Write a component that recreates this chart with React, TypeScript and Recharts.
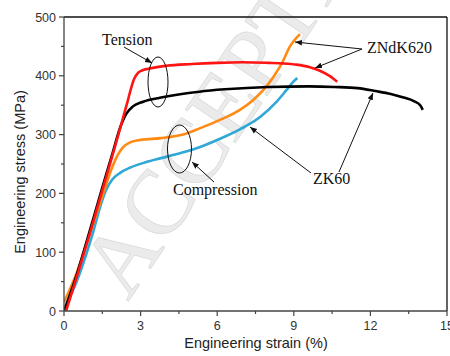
import React from 'react';
import { LineChart, Line, XAxis, YAxis, ReferenceLine } from 'recharts';

// ZNdK620 tension (red)
const zndkTensionStrain = [0.08, 0.5, 1.0, 1.5, 2.0, 2.45, 2.75, 2.9, 3.05, 3.3, 4.0, 5.0, 6.0, 7.0, 8.0, 8.6, 9.1, 9.6, 10.0, 10.35, 10.7];
const zndkTensionStress = [0, 58, 130, 205, 280, 350, 395, 405, 409, 412, 417, 420, 422, 423, 422, 421, 419, 415, 409, 401, 390];

// ZK60 tension (black)
const zk60TensionStrain = [0, 0.5, 1.0, 1.5, 1.9, 2.2, 2.45, 2.7, 3.1, 3.8, 5.3, 6.3, 8.0, 9.6, 10.6, 11.5, 12.2, 12.8, 13.3, 13.7, 13.95, 14.05];
const zk60TensionStress = [0, 62, 135, 210, 268, 312, 336, 348, 356, 363, 373, 377, 381, 382, 381, 379, 374, 369, 363, 357, 350, 342];

// ZNdK620 compression (orange)
const zndkCompStrain = [0, 0.5, 1.0, 1.5, 1.85, 2.1, 2.3, 2.6, 3.0, 3.8, 4.8, 5.33, 6.11, 6.89, 7.41, 7.81, 8.2, 8.53, 8.85, 9.24];
const zndkCompStress = [15, 65, 130, 195, 240, 265, 278, 287, 291, 294, 302, 311, 325, 342, 359, 376, 398, 421, 450, 471];

// ZK60 compression (blue)
const zk60CompStrain = [0.04, 0.6, 1.1, 1.45, 1.65, 1.9, 2.2, 2.6, 3.2, 3.8, 4.6, 5.33, 6.11, 6.89, 7.68, 8.33, 8.72, 9.05, 9.14];
const zk60CompStress = [5, 62, 128, 182, 206, 224, 235, 244, 253, 260, 269, 279, 293, 309, 330, 356, 376, 393, 396];

const xTicks = [0, 1.5, 3, 4.5, 6, 7.5, 9, 10.5, 12, 13.5, 15];
const xMajor = [0, 3, 6, 9, 12, 15];
const yTicks = [0, 50, 100, 150, 200, 250, 300, 350, 400, 450, 500];
const yMajor = [0, 100, 200, 300, 400, 500];

const toPoints = (xs: number[], ys: number[]) => xs.map((x, i) => ({ x, y: ys[i] }));

const series = [
  { name: 'ZK60 compression', color: '#2fa8d6', data: toPoints(zk60CompStrain, zk60CompStress) },
  { name: 'ZNdK620 compression', color: '#ff8a14', data: toPoints(zndkCompStrain, zndkCompStress) },
  { name: 'ZK60 tension', color: '#000000', data: toPoints(zk60TensionStrain, zk60TensionStress) },
  { name: 'ZNdK620 tension', color: '#ff1414', data: toPoints(zndkTensionStrain, zndkTensionStress) },
];

const tickFont = { fontFamily: 'Liberation Sans, Arial, sans-serif', fontSize: 12.5, fill: '#333' };

const XTick = (props: any) => {
  const { x, y, payload } = props;
  const major = xMajor.includes(payload.value);
  return (
    <g>
      <line x1={x} x2={x} y1={y} y2={y + (major ? 5 : 3)} stroke="#444" strokeWidth={1.2} />
      {major && (
        <text x={x} y={y + 19} textAnchor="middle" {...tickFont}>
          {payload.value}
        </text>
      )}
    </g>
  );
};

const YTick = (props: any) => {
  const { x, y, payload } = props;
  const major = yMajor.includes(payload.value);
  return (
    <g>
      <line x1={x - (major ? 5 : 3)} x2={x} y1={y} y2={y} stroke="#444" strokeWidth={1.2} />
      {major && (
        <text x={x - 8} y={y + 4.5} textAnchor="end" {...tickFont}>
          {payload.value}
        </text>
      )}
    </g>
  );
};

const serif = 'Liberation Serif, Times New Roman, serif';

const App = () => {
  return (
    <div style={{ position: 'absolute', left: 0, top: 0, width: 450, height: 356, background: '#fff' }}>
      <svg width={450} height={356} style={{ position: 'absolute', left: 0, top: 0 }}>
        <text
          x={0}
          y={0}
          transform="translate(128,302) rotate(-56)"
          fontFamily={serif}
          fontSize={92}
          fill="#ebebeb"
          stroke="#dcdcdc"
          strokeWidth={0.8}
        >
          ACCEPTED
        </text>
      </svg>
      <div style={{ position: 'absolute', left: 0, top: 0 }}>
        <LineChart width={450} height={356} margin={{ top: 17, right: 3, left: 24, bottom: 15 }}>
          <XAxis
            type="number"
            dataKey="x"
            domain={[0, 15]}
            ticks={xTicks}
            interval={0}
            allowDataOverflow
            height={30}
            tickLine={false}
            tickSize={0}
            tickMargin={0}
            tick={<XTick />}
            axisLine={{ stroke: '#444', strokeWidth: 1.3 }}
          />
          <YAxis
            type="number"
            dataKey="y"
            domain={[0, 500]}
            ticks={yTicks}
            interval={0}
            allowDataOverflow
            width={40}
            tickLine={false}
            tickSize={0}
            tickMargin={0}
            tick={<YTick />}
            axisLine={{ stroke: '#444', strokeWidth: 1.3 }}
          />
          <ReferenceLine y={500} stroke="#111" strokeWidth={1.3} />
          <ReferenceLine x={15} stroke="#111" strokeWidth={1.3} />
          {series.map((s) => (
            <Line
              key={s.name}
              name={s.name}
              data={s.data}
              dataKey="y"
              type="monotone"
              stroke={s.color}
              strokeWidth={2.6}
              dot={false}
              isAnimationActive={false}
            />
          ))}
        </LineChart>
      </div>
      <svg width={450} height={356} style={{ position: 'absolute', left: 0, top: 0, pointerEvents: 'none' }}>
        <defs>
          <marker id="head" viewBox="0 0 10 10" refX="10" refY="5" markerWidth="7" markerHeight="7" orient="auto-start-reverse" markerUnits="userSpaceOnUse">
            <path d="M0,1 L10,5 L0,9 z" fill="#111" />
          </marker>
        </defs>
        <g stroke="#111" strokeWidth={1} fill="none">
          <ellipse cx={158} cy={82} rx={10} ry={25} />
          <ellipse cx={179.5} cy={149} rx={12} ry={24} />
          <line x1={124} y1={47} x2={152} y2={63} markerEnd="url(#head)" />
          <line x1={214} y1={182} x2={192} y2={162} markerEnd="url(#head)" />
          <line x1={362} y1={49} x2={295} y2={42} markerEnd="url(#head)" />
          <line x1={362} y1={49} x2={315} y2={68} markerEnd="url(#head)" />
          <line x1={311} y1={173} x2={250} y2={127} markerEnd="url(#head)" />
          <line x1={339} y1={172} x2={373} y2={93} markerEnd="url(#head)" />
        </g>
        <g fontFamily={serif} fontSize={16} fill="#111">
          <text x={102} y={45}>Tension</text>
          <text x={173} y={195}>Compression</text>
          <text x={367} y={53}>ZNdK620</text>
          <text x={313} y={184}>ZK60</text>
        </g>
        <text x={256} y={348} textAnchor="middle" fontFamily="Liberation Sans, Arial, sans-serif" fontSize={14.5} fill="#222">
          Engineering strain (%)
        </text>
        <text
          x={0}
          y={0}
          transform="translate(25,172) rotate(-90)"
          textAnchor="middle"
          fontFamily="Liberation Sans, Arial, sans-serif"
          fontSize={14.5}
          fill="#222"
        >
          Engineering stress (MPa)
        </text>
      </svg>
    </div>
  );
};

export default App;
